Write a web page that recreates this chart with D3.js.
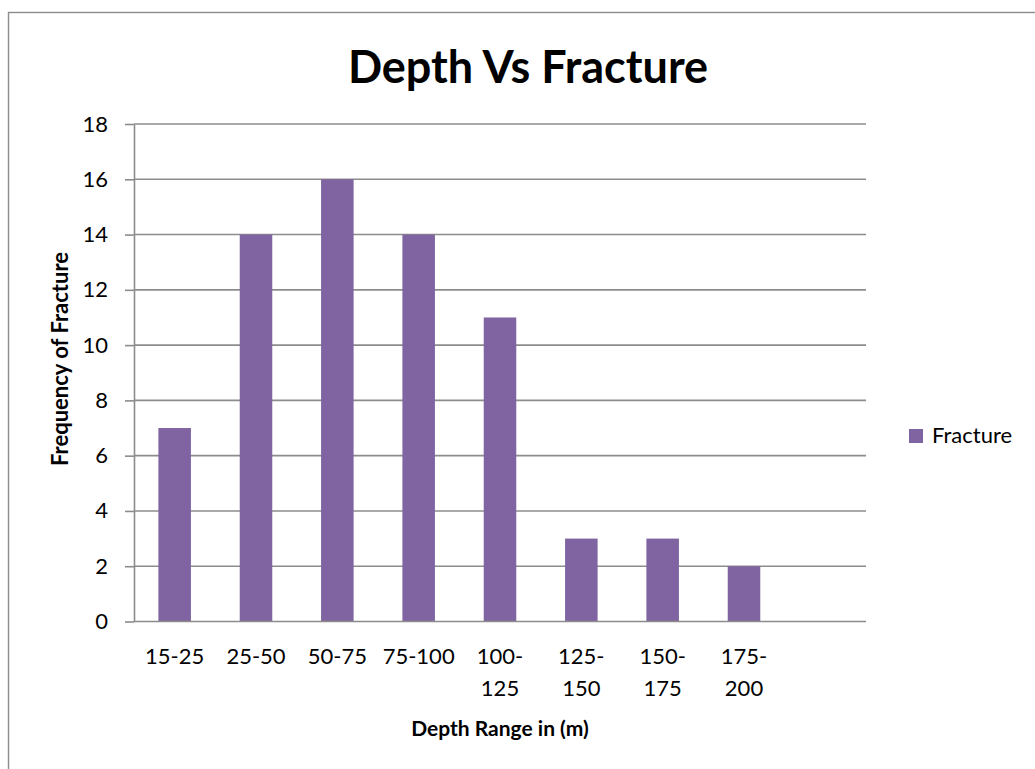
<!DOCTYPE html>
<html>
<head>
<meta charset="utf-8">
<script src="https://cdn.jsdelivr.net/npm/d3@7"></script>
<style>
  html, body { margin: 0; padding: 0; background: #fff; }
  svg { display: block; }
  text { font-family: Lato, "Open Sans", sans-serif; fill: #000; }
</style>
</head>
<body>
<svg id="chart" width="1035" height="769"></svg>
<script>
// Depth ranges (last slot is an empty category) and fracture counts
const categories = ["15-25", "25-50", "50-75", "75-100", "100-125", "125-150", "150-175", "175-200", " "];
const fractureCounts = [7, 14, 16, 14, 11, 3, 3, 2, null];
const yTicks = [0, 2, 4, 6, 8, 10, 12, 14, 16, 18];
const seriesName = "Fracture";
const chartTitle = "Depth Vs Fracture";
const xTitle = "Depth Range in (m)";
const yTitle = "Frequency of Fracture";

const svg = d3.select("#chart");
const W = 1035, H = 769;
const plot = { left: 134, right: 866, top: 124, bottom: 621.5 };
const barColor = "#8064A2";
const gridColor = "#8c8c8c";

// Chart-area frame
svg.append("rect")
  .attr("x", 8.5).attr("y", 12.5)
  .attr("width", W + 40).attr("height", H + 40)
  .attr("fill", "#fff")
  .attr("stroke", "#8c8c8c").attr("stroke-width", 1.4);

const x = d3.scaleBand()
  .domain(categories)
  .range([plot.left, plot.right])
  .paddingInner(0.6)
  .paddingOuter(0.3);

const y = d3.scaleLinear()
  .domain([0, 18])
  .range([plot.bottom, plot.top]);

// Horizontal gridlines
svg.append("g")
  .selectAll("line")
  .data(yTicks.filter(t => t > 0))
  .join("line")
  .attr("x1", plot.left).attr("x2", plot.right)
  .attr("y1", d => y(d)).attr("y2", d => y(d))
  .attr("stroke", gridColor).attr("stroke-width", 1.6);

// Bars
svg.append("g")
  .selectAll("rect")
  .data(categories.map((c, i) => ({ c, v: fractureCounts[i] })).filter(d => d.v != null))
  .join("rect")
  .attr("x", d => x(d.c))
  .attr("width", x.bandwidth())
  .attr("y", d => y(d.v))
  .attr("height", d => y(0) - y(d.v))
  .attr("fill", barColor);

// Y axis
const yAxis = svg.append("g")
  .attr("transform", `translate(${plot.left},0)`)
  .call(d3.axisLeft(y).tickValues(yTicks).tickSize(9).tickPadding(17).tickSizeOuter(0));
yAxis.select(".domain").attr("stroke", gridColor).attr("stroke-width", 1.6);
yAxis.selectAll(".tick line").attr("stroke", gridColor).attr("stroke-width", 1.6);
yAxis.selectAll(".tick text")
  .attr("font-family", "Lato, sans-serif")
  .attr("font-size", 22)
  .attr("fill", "#000");

// X axis
const xAxis = svg.append("g")
  .attr("transform", `translate(0,${plot.bottom})`)
  .call(d3.axisBottom(x).tickSize(0).tickSizeOuter(0).tickFormat(() => ""));
xAxis.select(".domain")
  .attr("stroke", gridColor).attr("stroke-width", 1.6)
  .attr("d", `M${plot.left},0H${plot.right}`);

// Category labels, wrapped after the hyphen when too wide for the slot
const step = x.step();
const labelG = svg.append("g");
categories.forEach(c => {
  const cx = x(c) + x.bandwidth() / 2;
  const t = labelG.append("text")
    .attr("x", cx).attr("y", 664)
    .attr("text-anchor", "middle")
    .attr("font-size", 22)
    .text(c);
  if (t.node().getComputedTextLength() > step * 0.95 && c.includes("-")) {
    const k = c.indexOf("-") + 1;
    t.text(null);
    t.append("tspan").attr("x", cx).attr("y", 664).text(c.slice(0, k));
    t.append("tspan").attr("x", cx).attr("y", 696).text(c.slice(k));
  }
});

// Titles
svg.append("text")
  .attr("x", 528).attr("y", 83)
  .attr("text-anchor", "middle")
  .attr("font-size", 45).attr("font-weight", 700)
  .text(chartTitle);

svg.append("text")
  .attr("x", (plot.left + plot.right) / 2).attr("y", 736)
  .attr("text-anchor", "middle")
  .attr("font-size", 21).attr("font-weight", 700)
  .text(xTitle);

svg.append("text")
  .attr("transform", "translate(68,359) rotate(-90)")
  .attr("text-anchor", "middle")
  .attr("font-size", 22).attr("font-weight", 700)
  .text(yTitle);

// Legend
const lg = svg.append("g").attr("transform", "translate(909,429)");
lg.append("rect").attr("width", 14).attr("height", 14).attr("fill", barColor);
lg.append("text").attr("x", 23).attr("y", 14).attr("font-size", 22).text(seriesName);
</script>
</body>
</html>
